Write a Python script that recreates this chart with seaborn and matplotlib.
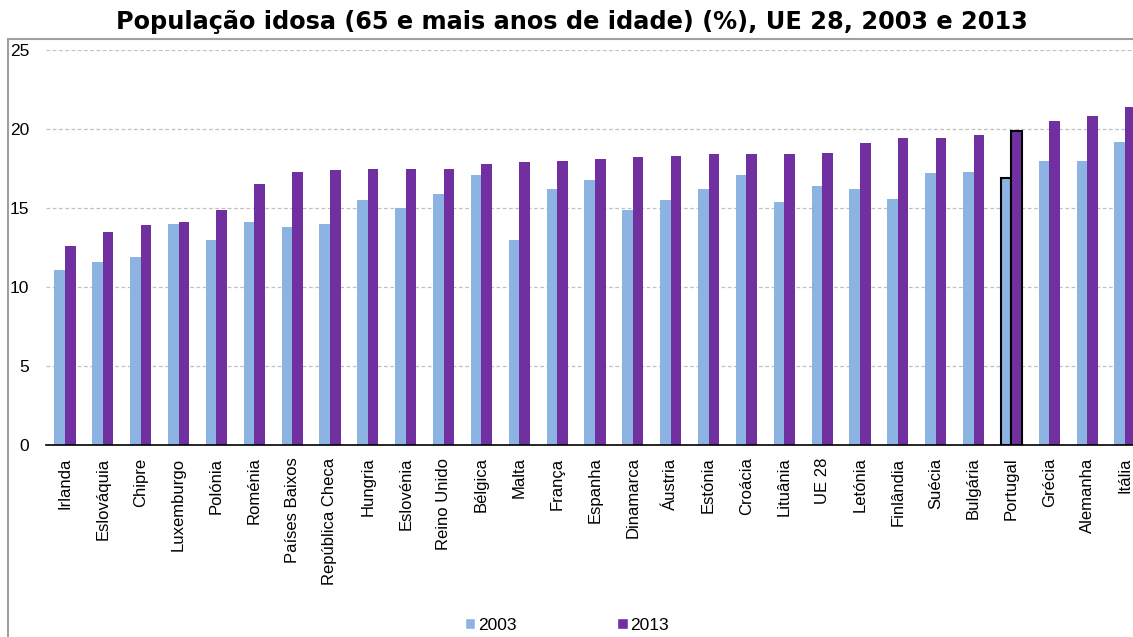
import matplotlib
matplotlib.use("Agg")
import matplotlib.pyplot as plt
import pandas as pd
import seaborn as sns
from matplotlib.patches import Rectangle, Patch

# Data
paises = ["Irlanda", "Eslováquia", "Chipre", "Luxemburgo", "Polónia", "Roménia",
          "Países Baixos", "República Checa", "Hungria", "Eslovénia", "Reino Unido",
          "Bélgica", "Malta", "França", "Espanha", "Dinamarca", "Áustria", "Estónia",
          "Croácia", "Lituânia", "UE 28", "Letónia", "Finlândia", "Suécia", "Bulgária",
          "Portugal", "Grécia", "Alemanha", "Itália"]
v2003 = [11.1, 11.6, 11.9, 14.0, 13.0, 14.1, 13.8, 14.0, 15.5, 15.0, 15.9,
         17.1, 13.0, 16.2, 16.8, 14.9, 15.5, 16.2, 17.1, 15.4, 16.4, 16.2,
         15.6, 17.2, 17.3, 16.9, 18.0, 18.0, 19.2]
v2013 = [12.6, 13.5, 13.9, 14.1, 14.9, 16.5, 17.3, 17.4, 17.5, 17.5, 17.5,
         17.8, 17.9, 18.0, 18.1, 18.2, 18.3, 18.4, 18.4, 18.4, 18.5, 19.1,
         19.4, 19.4, 19.6, 19.9, 20.5, 20.8, 21.4]
anos = ["2003", "2013"]
cores = ["#8DB3E2", "#7030A0"]

df = pd.DataFrame({"pais": paises * 2,
                   "ano": [anos[0]] * len(paises) + [anos[1]] * len(paises),
                   "valor": v2003 + v2013})

sns.set_style("white")
plt.rcParams["font.family"] = ["Liberation Sans", "DejaVu Sans"]
plt.rcParams["text.color"] = "black"
plt.rcParams["xtick.color"] = "black"
plt.rcParams["ytick.color"] = "black"

W, H = 1133, 637
fig = plt.figure(figsize=(W / 100, H / 100), dpi=100)
# the plot area runs past the right edge of the picture, as in the reference
ax = fig.add_axes([46 / W, 1 - 445 / H, 1098 / W, 395 / H])

sns.barplot(data=df, x="pais", y="valor", hue="ano", palette=cores,
            width=0.56, saturation=1, linewidth=0, ax=ax, legend=False)

# highlight Portugal
ip = paises.index("Portugal")
for c in ax.containers:
    c[ip].set_edgecolor("black")
    c[ip].set_linewidth(1.5)

ax.set_ylim(0, 25)
ax.set_yticks([0, 5, 10, 15, 20, 25])
ax.set_xlim(-0.5, len(paises) - 0.5)
ax.yaxis.grid(True, linestyle=(0, (3, 2)), color="#c0c0c0", linewidth=0.9)
ax.set_axisbelow(True)
for s in ["top", "right", "left"]:
    ax.spines[s].set_visible(False)
ax.spines["bottom"].set_color("black")
ax.spines["bottom"].set_linewidth(1.2)
ax.set_xlabel("")
ax.set_ylabel("")

ax.tick_params(axis="y", length=0, pad=12, labelsize=12.5)
ax.set_xticks(range(len(paises)))
ax.set_xticklabels(paises, rotation=90, fontsize=12)
ax.tick_params(axis="x", which="major", length=0, pad=9)
ax.set_xticks([i - 0.5 for i in range(len(paises) + 1)], minor=True)
ax.tick_params(axis="x", which="minor", length=5, width=1, color="black", direction="out")

# legend
handles = [Patch(facecolor=cores[0]), Patch(facecolor=cores[1])]
fig.legend(handles, anos, loc="center", bbox_to_anchor=(567 / W, 1 - 625 / H),
           ncol=2, frameon=False, fontsize=12.5, handlelength=0.6, handleheight=0.6,
           handletextpad=0.15, columnspacing=5.8)

# title and outer frame
fig.text(572 / W, 1 - 22 / H, "População idosa (65 e mais anos de idade) (%), UE 28, 2003 e 2013",
         ha="center", va="center", fontsize=17.3, fontweight="bold", family="DejaVu Sans",
         color="black")
fig.patches.append(Rectangle((8 / W, -0.1), 2, 1 - 38.5 / H + 0.1, transform=fig.transFigure,
                             fill=False, edgecolor="#a0a0a0", linewidth=1.5))

fig.savefig("out.png", dpi=100)
